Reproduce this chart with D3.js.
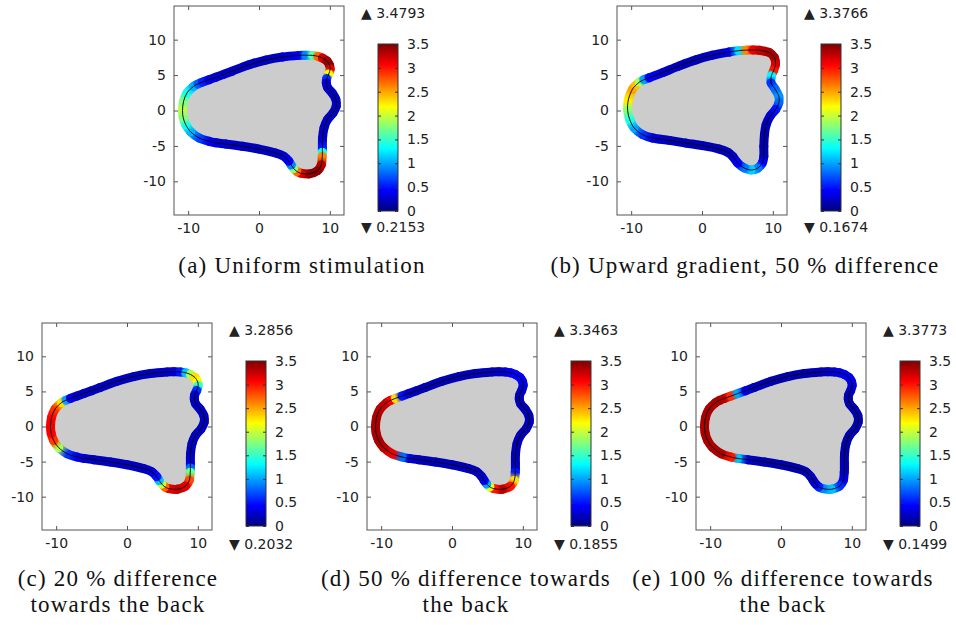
<!DOCTYPE html>
<html>
<head>
<meta charset="utf-8">
<script src="https://cdn.jsdelivr.net/npm/d3@7"></script>
<style>
  body { margin: 0; background: #fff; }
  svg { display: block; }
</style>
</head>
<body>
<script>
// cell outline (panels a, c, d, e)
const shapeAX = [-10.8, -10.65, -10.15, -9.25, -8.6, -8.0, -7.05, -6.1, -5.0, -3.8, -1.4, 0.95, 3.3, 5.65, 6.6, 7.55, 8.3, 8.95, 9.6, 9.95, 10.05, 9.85, 9.55, 9.5, 9.7, 10.35, 10.85, 10.9, 10.45, 9.65, 9.18, 8.97, 8.95, 8.95, 8.93, 8.8, 8.25, 7.1, 5.9, 5.35, 4.9, 4.55, 4.2, 3.5, 2.35, 0, -2.35, -4.7, -6.1, -7.05, -8.45, -9.65, -10.35, -10.7]
const shapeAY = [0, 1.3, 2.5, 3.4, 3.75, 4.0, 4.35, 4.7, 5.1, 5.55, 6.45, 7.12, 7.55, 7.78, 7.8, 7.78, 7.65, 7.42, 6.98, 6.42, 5.85, 5.15, 4.5, 3.9, 3.2, 2.45, 1.55, 0.6, -0.35, -1.3, -2.45, -3.9, -5.3, -5.9, -6.5, -7.65, -8.5, -8.95, -8.85, -8.6, -8.2, -7.7, -7.15, -6.45, -6.0, -5.45, -5.05, -4.73, -4.55, -4.35, -3.88, -3.0, -2.0, -1.0]
// outline in panel b (upward gradient)
const shapeBX = [-10.5, -10.4, -9.85, -9.3, -8.85, -8.2, -7.45, -5.55, -3.2, -0.85, 1.5, 3.85, 5.2, 6.25, 7.2, 8.1, 9.5, 10.22, 10.38, 10.1, 9.8, 9.75, 10.35, 10.85, 10.85, 10.4, 9.62, 9.06, 8.82, 8.73, 8.73, 8.5, 7.88, 6.93, 5.99, 5.05, 4.34, 3.63, 2.45, 0.1, -2.25, -4.6, -6.98, -8.4, -9.58, -10.2]
const shapeBY = [0, 1.5, 2.95, 3.6, 4.0, 4.35, 4.63, 5.35, 6.3, 7.15, 7.8, 8.25, 8.45, 8.52, 8.55, 8.5, 8.18, 7.47, 6.52, 5.6, 4.9, 3.9, 2.98, 2.0, 1.1, 0.15, -0.8, -2.0, -3.4, -5.05, -6.5, -7.42, -8.13, -8.4, -8.13, -7.42, -6.48, -5.9, -5.44, -4.96, -4.6, -4.22, -3.88, -3.4, -2.46, -1.28]

// value at each outline point
const valuesA = [1.95, 1.75, 1.4, 1.05, 0.75, 0.55, 0.35, 0.28, 0.25, 0.23, 0.22, 0.22, 0.25, 0.4, 0.9, 1.6, 2.7, 3.2, 3.4, 3.45, 3.15, 2.2, 0.6, 0.3, 0.25, 0.23, 0.22, 0.22, 0.22, 0.22, 0.22, 0.25, 0.5, 1.4, 2.6, 3.3, 3.45, 3.45, 3.2, 2.7, 1.8, 0.9, 0.45, 0.28, 0.23, 0.22, 0.22, 0.25, 0.3, 0.4, 0.65, 1.05, 1.4, 1.75]
const valuesB = [1.8, 2.25, 2.5, 2.4, 1.9, 1.0, 0.45, 0.25, 0.2, 0.2, 0.22, 0.35, 1.2, 2.6, 3.1, 3.25, 3.35, 3.37, 3.2, 3.0, 1.3, 0.6, 0.8, 0.95, 0.8, 0.5, 0.3, 0.2, 0.17, 0.17, 0.2, 0.45, 0.85, 1.15, 0.85, 0.45, 0.25, 0.2, 0.18, 0.18, 0.18, 0.2, 0.3, 0.6, 1.0, 1.4]
const valuesC = [3.1, 3.05, 2.9, 2.3, 1.0, 0.4, 0.25, 0.22, 0.22, 0.22, 0.22, 0.22, 0.22, 0.25, 0.3, 0.5, 1.1, 1.9, 2.3, 2.2, 1.5, 0.6, 0.3, 0.22, 0.22, 0.22, 0.22, 0.22, 0.22, 0.22, 0.22, 0.22, 0.35, 0.8, 1.7, 2.8, 3.15, 3.25, 3.15, 2.7, 2.0, 1.1, 0.5, 0.3, 0.22, 0.22, 0.22, 0.22, 0.25, 0.35, 0.6, 1.9, 2.85, 3.05]
const valuesD = [3.35, 3.35, 3.3, 3.25, 3.1, 2.3, 0.5, 0.25, 0.2, 0.19, 0.19, 0.19, 0.2, 0.22, 0.25, 0.3, 0.38, 0.42, 0.42, 0.4, 0.35, 0.28, 0.2, 0.19, 0.19, 0.19, 0.19, 0.19, 0.19, 0.19, 0.19, 0.19, 0.2, 0.25, 0.5, 2.3, 3.0, 3.3, 3.0, 2.1, 1.0, 0.4, 0.25, 0.2, 0.19, 0.19, 0.19, 0.2, 0.3, 0.8, 3.1, 3.3, 3.35, 3.35]
const valuesE = [3.35, 3.35, 3.35, 3.35, 3.35, 3.3, 2.9, 1.0, 0.35, 0.2, 0.16, 0.16, 0.17, 0.2, 0.25, 0.3, 0.35, 0.4, 0.4, 0.38, 0.33, 0.27, 0.2, 0.17, 0.16, 0.16, 0.16, 0.16, 0.16, 0.16, 0.16, 0.17, 0.18, 0.2, 0.22, 0.35, 0.6, 1.1, 0.9, 0.55, 0.35, 0.25, 0.2, 0.17, 0.16, 0.16, 0.17, 0.25, 1.1, 3.0, 3.35, 3.35, 3.35, 3.35]

const maxLabels = ['3.4793', '3.3766', '3.2856', '3.3463', '3.3773']
const minLabels = ['0.2153', '0.1674', '0.2032', '0.1855', '0.1499']
const captions = [
  ['(a) Uniform stimulation'],
  ['(b) Upward gradient, 50 % difference'],
  ['(c) 20 % difference', 'towards the back'],
  ['(d) 50 % difference towards', 'the back'],
  ['(e) 100 % difference towards', 'the back']
]
const xTicks = [-10, 0, 10]
const yTicks = [-10, -5, 0, 5, 10]
const cbarTicks = [0, 0.5, 1, 1.5, 2, 2.5, 3, 3.5]

// where each panel sits on the page
const layout = [
  { x: 174, y: 6, h: 209, cx: 302, cy: [273] },
  { x: 617, y: 6, h: 209, cx: 745, cy: [273] },
  { x: 42, y: 323, h: 207, cx: 118, cy: [586, 612] },
  { x: 367, y: 323, h: 207, cx: 466, cy: [586, 612] },
  { x: 696, y: 323, h: 207, cx: 783, cy: [586, 612] }
]
const shapes = [[shapeAX, shapeAY], [shapeBX, shapeBY], [shapeAX, shapeAY], [shapeAX, shapeAY], [shapeAX, shapeAY]]
const values = [valuesA, valuesB, valuesC, valuesD, valuesE]

const W = 956, H = 625
const svg = d3.select('body').append('svg').attr('width', W).attr('height', H)
const defs = svg.append('defs')
defs.append('filter').attr('id', 'soft')
  .attr('x', '-10%').attr('y', '-10%').attr('width', '120%').attr('height', '120%')
  .append('feGaussianBlur').attr('stdDeviation', 0.75)

// jet colormap on 0..3.5
const jetStops = [0, 0.125, 0.375, 0.625, 0.875, 1]
const jetColors = ['#00007f', '#0000ff', '#00ffff', '#ffff00', '#ff0000', '#7f0000']
const jet = d3.scaleLinear().domain(jetStops.map(t => t * 3.5)).range(jetColors).clamp(true)

const cbarGrad = defs.append('linearGradient').attr('id', 'cbar')
  .attr('x1', 0).attr('y1', 1).attr('x2', 0).attr('y2', 0)
jetStops.forEach((t, i) => cbarGrad.append('stop').attr('offset', t).attr('stop-color', jetColors[i]))

const axisColor = '#555'
const textColor = '#222'
const sans = "'DejaVu Sans', sans-serif"

const outline = d3.line().curve(d3.curveCardinalClosed.tension(0))

layout.forEach((p, k) => drawPanel(p, k))

function drawPanel(p, k) {
  const w = 170
  const g = svg.append('g')
  const x = d3.scaleLinear().domain([-12, 12]).range([p.x, p.x + w])
  const y = d3.scaleLinear().domain([-14.75, 14.75]).range([p.y + p.h, p.y])
  const [sx, sy] = shapes[k]
  const vals = values[k]
  const pts = sx.map((v, i) => [x(v), y(sy[i])])
  const n = pts.length

  g.append('rect').attr('x', p.x).attr('y', p.y).attr('width', w).attr('height', p.h).attr('fill', '#fff')

  g.append('path').attr('d', outline(pts)).attr('fill', '#cccccc')

  // coloured band: one cubic piece of the same curve per pair of points
  const band = g.append('g').attr('filter', 'url(#soft)')
  for (let i = 0; i < n; i++) {
    const p0 = pts[(i - 1 + n) % n], p1 = pts[i], p2 = pts[(i + 1) % n], p3 = pts[(i + 2) % n]
    const c1 = [p1[0] + (p2[0] - p0[0]) / 6, p1[1] + (p2[1] - p0[1]) / 6]
    const c2 = [p2[0] - (p3[0] - p1[0]) / 6, p2[1] - (p3[1] - p1[1]) / 6]
    const id = `seg${k}_${i}`
    const lg = defs.append('linearGradient').attr('id', id).attr('gradientUnits', 'userSpaceOnUse')
      .attr('x1', p1[0]).attr('y1', p1[1]).attr('x2', p2[0]).attr('y2', p2[1])
    lg.append('stop').attr('offset', 0).attr('stop-color', jet(vals[i]))
    lg.append('stop').attr('offset', 1).attr('stop-color', jet(vals[(i + 1) % n]))
    band.append('path')
      .attr('d', `M${p1}C${c1} ${c2} ${p2}`)
      .attr('fill', 'none').attr('stroke', `url(#${id})`)
      .attr('stroke-width', 9).attr('stroke-linecap', 'round')
  }

  g.append('path').attr('d', outline(pts)).attr('fill', 'none').attr('stroke', '#000').attr('stroke-width', 0.9)

  // axes with inward ticks on all four sides
  const fmt = d => String(d)
  const axes = [
    [d3.axisBottom(x).tickValues(xTicks).tickFormat(fmt).tickSize(-4).tickPadding(8), `translate(0,${p.y + p.h})`],
    [d3.axisTop(x).tickValues(xTicks).tickFormat('').tickSize(-4), `translate(0,${p.y})`],
    [d3.axisLeft(y).tickValues(yTicks).tickFormat(fmt).tickSize(-4).tickPadding(8), `translate(${p.x},0)`],
    [d3.axisRight(y).tickValues(yTicks).tickFormat('').tickSize(-4), `translate(${p.x + w},0)`]
  ]
  axes.forEach(([ax, tr]) => {
    const a = g.append('g').attr('transform', tr).call(ax)
    a.select('.domain').remove()
    a.selectAll('line').attr('stroke', axisColor)
    a.selectAll('text').attr('fill', textColor).style('font-family', sans).style('font-size', '14px')
  })
  g.append('rect').attr('x', p.x).attr('y', p.y).attr('width', w).attr('height', p.h)
    .attr('fill', 'none').attr('stroke', axisColor).attr('stroke-width', 1)

  // colour bar
  const cbX = p.x + 204, cbW = 20
  const cbTop = p.y + 38, cbBot = p.y + p.h - 4
  const cy = d3.scaleLinear().domain([0, 3.5]).range([cbBot, cbTop])
  g.append('rect').attr('x', cbX).attr('y', cbTop).attr('width', cbW).attr('height', cbBot - cbTop)
    .attr('fill', 'url(#cbar)').attr('stroke', '#333').attr('stroke-width', 1)
  const cbR = g.append('g').attr('transform', `translate(${cbX + cbW},0)`)
    .call(d3.axisRight(cy).tickValues(cbarTicks).tickFormat(fmt).tickSize(-3).tickPadding(9))
  const cbL = g.append('g').attr('transform', `translate(${cbX},0)`)
    .call(d3.axisLeft(cy).tickValues(cbarTicks).tickFormat('').tickSize(-3))
  ;[cbR, cbL].forEach(a => {
    a.select('.domain').remove()
    a.selectAll('line').attr('stroke', '#333')
    a.selectAll('text').attr('fill', textColor).style('font-family', sans).style('font-size', '14px')
  })

  g.append('text').attr('x', p.x + 187).attr('y', p.y + 12)
    .attr('fill', textColor).style('font-family', sans).style('font-size', '14px')
    .text('\u25B2 ' + maxLabels[k])
  g.append('text').attr('x', p.x + 187).attr('y', p.y + 226)
    .attr('fill', textColor).style('font-family', sans).style('font-size', '14px')
    .text('\u25BC ' + minLabels[k])

  // caption
  captions[k].forEach((line, j) => {
    g.append('text').attr('x', p.cx).attr('y', p.cy[j])
      .attr('text-anchor', 'middle')
      .style('font-family', "'Liberation Serif', serif").style('font-size', '23px')
      .style('letter-spacing', '1.2px')
      .attr('fill', '#111')
      .text(line)
  })
}
</script>
</body>
</html>
